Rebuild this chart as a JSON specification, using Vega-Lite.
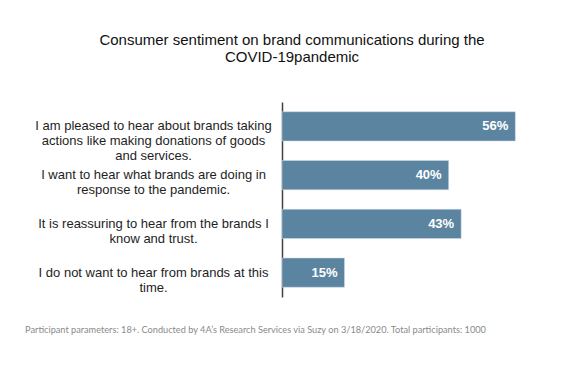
{
  "$schema": "https://vega.github.io/schema/vega-lite/v6.json",
  "width": 250,
  "height": 195,
  "autosize": {"type": "none"},
  "padding": {"left": 282, "top": 102, "right": 34, "bottom": 71},
  "background": "white",
  "title": {
    "text": ["Consumer sentiment on brand communications during the", "COVID-19pandemic"],
    "font": "Liberation Sans",
    "fontSize": 15,
    "fontWeight": "normal",
    "color": "#111111",
    "anchor": "middle",
    "frame": "group",
    "dx": -115,
    "lineHeight": 17,
    "offset": 37
  },
  "data": {
    "values": [
      {"order": 1, "label": "I am pleased to hear about brands taking|actions like making donations of goods|and services.", "value": 0.56},
      {"order": 2, "label": "I want to hear what brands are doing in|response to the pandemic.", "value": 0.40},
      {"order": 3, "label": "It is reassuring to hear from the brands I|know and trust.", "value": 0.43},
      {"order": 4, "label": "I do not want to hear from brands at this|time.", "value": 0.15}
    ]
  },
  "encoding": {
    "y": {
      "field": "label",
      "type": "nominal",
      "sort": {"field": "order"},
      "scale": {"paddingInner": 0.4, "paddingOuter": 0.2},
      "axis": {
        "title": null,
        "labelExpr": "split(datum.label, '|')",
        "labelAlign": "center",
        "labelBaseline": "middle",
        "labelPadding": 129,
        "labelLimit": 300,
        "labelFont": "Liberation Sans",
        "labelFontSize": 13,
        "labelLineHeight": 15,
        "labelColor": "#1e1e1e",
        "ticks": false,
        "domainColor": "#404040",
        "domainWidth": 1.5
      }
    },
    "x": {
      "field": "value",
      "type": "quantitative",
      "scale": {"domain": [0, 0.6], "nice": false},
      "axis": {
        "labels": false,
        "ticks": false,
        "domain": false,
        "grid": false,
        "title": "Participant parameters: 18+. Conducted by 4A’s Research Services via Suzy on 3/18/2020. Total participants: 1000",
        "titleFont": "Lato",
        "titleFontSize": 9.2,
        "titleFontWeight": "normal",
        "titleColor": "#8a8a8a",
        "titleAnchor": "middle",
        "titleX": -27,
        "titleY": 32,
        "titleBaseline": "middle"
      }
    }
  },
  "layer": [
    {"mark": {"type": "bar", "color": "#5b84a0", "stroke": "#d0dde8", "strokeWidth": 0.5}},
    {
      "mark": {"type": "text", "align": "right", "dx": -7, "color": "white", "fontWeight": "bold", "font": "Liberation Sans", "fontSize": 13},
      "encoding": {"text": {"field": "value", "type": "quantitative", "format": ".0%"}}
    }
  ],
  "config": {"view": {"stroke": null}}
}
